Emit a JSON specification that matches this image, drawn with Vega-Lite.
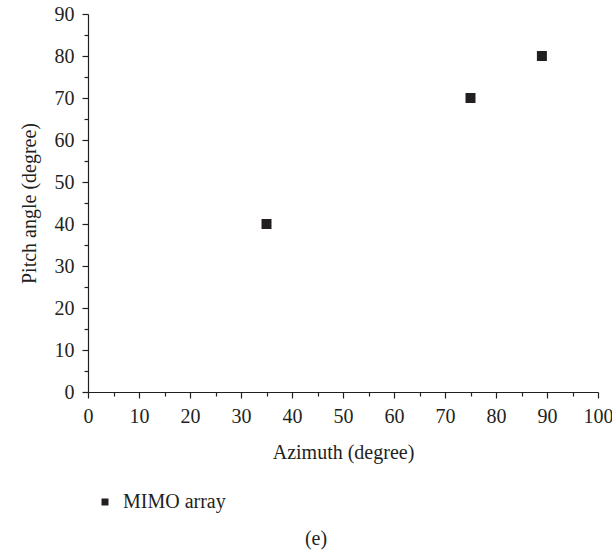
{
  "$schema": "https://vega.github.io/schema/vega-lite/v6.json",
  "autosize": "none",
  "width": 510,
  "height": 378,
  "padding": {"left": 88, "top": 14, "right": 14, "bottom": 160},
  "background": "white",
  "config": {
    "view": {"stroke": null},
    "font": "Liberation Serif",
    "axis": {"domainColor": "#231f20", "tickColor": "#231f20", "labelColor": "#231f20", "titleColor": "#231f20", "labelFont": "Liberation Serif", "titleFont": "Liberation Serif", "labelFontSize": 20, "titleFontSize": 20, "titleFontWeight": "normal", "grid": false, "domainWidth": 1.2, "tickWidth": 1.2},
    "legend": {"labelFont": "Liberation Serif", "labelFontSize": 20, "labelColor": "#231f20"}
  },
  "title": {"text": "(e)", "orient": "bottom", "fontSize": 20, "fontWeight": "normal", "font": "Liberation Serif", "color": "#231f20", "offset": 17, "anchor": "middle", "frame": "bounds"},
  "data": {"values": [
    {"azimuth": 35, "pitch": 40, "series": "MIMO array"},
    {"azimuth": 75, "pitch": 70, "series": "MIMO array"},
    {"azimuth": 89, "pitch": 80, "series": "MIMO array"}
  ]},
  "mark": {"type": "square", "size": 100, "opacity": 1},
  "encoding": {
    "x": {"field": "azimuth", "type": "quantitative", "scale": {"domain": [0, 100], "nice": false, "zero": false},
      "axis": {"title": "Azimuth (degree)", "values": [0,5,10,15,20,25,30,35,40,45,50,55,60,65,70,75,80,85,90,95,100],
        "labelExpr": "datum.value % 10 === 0 ? datum.label : ''",
        "tickSize": {"condition": {"test": "datum.value % 10 === 0", "value": 6}, "value": 4},
        "labelPadding": 8, "titlePadding": 16, "labelFlush": false}},
    "y": {"field": "pitch", "type": "quantitative", "scale": {"domain": [0, 90], "nice": false, "zero": false},
      "axis": {"title": "Pitch angle (degree)", "values": [0,5,10,15,20,25,30,35,40,45,50,55,60,65,70,75,80,85,90],
        "labelExpr": "datum.value % 10 === 0 ? datum.label : ''",
        "tickSize": {"condition": {"test": "datum.value % 10 === 0", "value": 6}, "value": 4},
        "labelPadding": 8, "titlePadding": 15, "labelFlush": false}},
    "color": {"field": "series", "type": "nominal", "scale": {"range": ["#231f20"]},
      "legend": {"title": null, "orient": "none", "legendX": 7, "legendY": 478, "symbolType": "square", "symbolSize": 49, "symbolOpacity": 1, "labelOffset": 8}}
  }
}
